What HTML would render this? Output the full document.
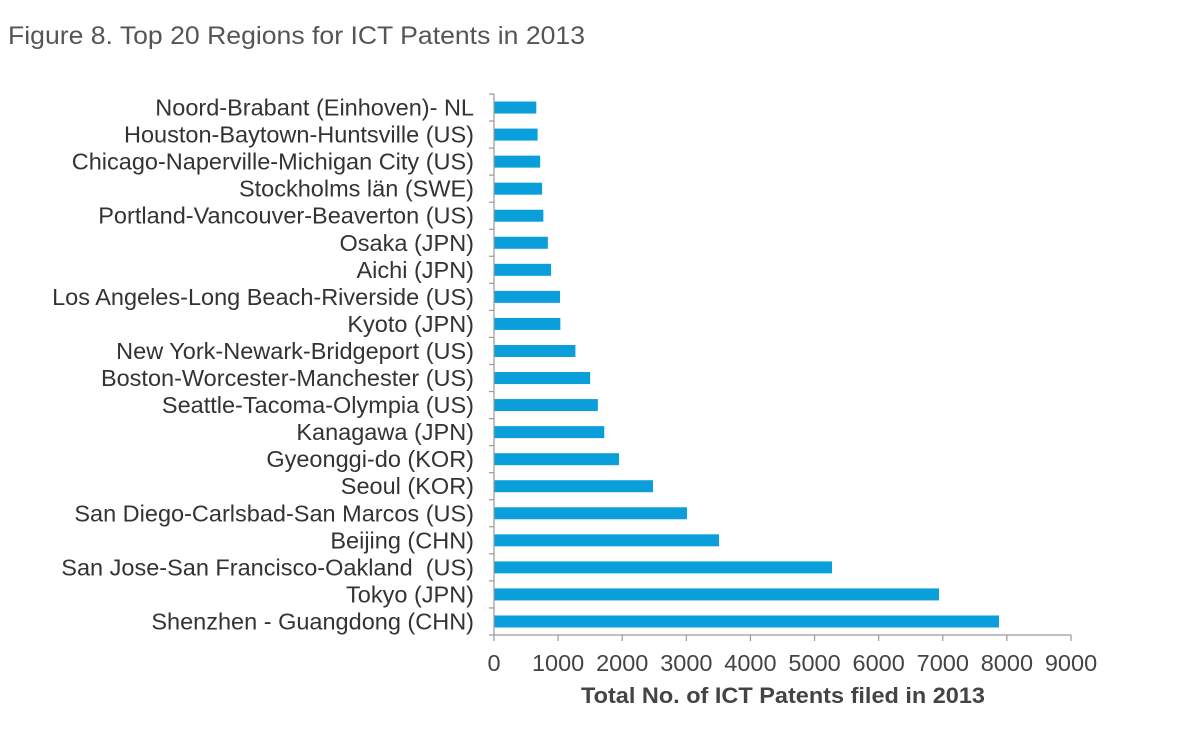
<!DOCTYPE html>
<html><head><meta charset="utf-8"><style>
body{margin:0;background:#fff;}
svg{display:block;font-family:"Liberation Sans",sans-serif;}
#yaxis text{white-space:pre;}
</style></head><body>
<svg id="chart" width="1200" height="730">
<text x="8" y="44" font-size="25" fill="#555" textLength="577" lengthAdjust="spacingAndGlyphs">Figure 8. Top 20 Regions for ICT Patents in 2013</text>
<g id="bars"></g>
<g id="yaxis"></g>
<g id="xaxis"></g>
<text x="783" y="703" font-size="22" font-weight="bold" fill="#444" text-anchor="middle" textLength="404" lengthAdjust="spacingAndGlyphs">Total No. of ICT Patents filed in 2013</text>
</svg>
<script>
const categories = ["Noord-Brabant (Einhoven)- NL","Houston-Baytown-Huntsville (US)","Chicago-Naperville-Michigan City (US)","Stockholms län (SWE)","Portland-Vancouver-Beaverton (US)","Osaka (JPN)","Aichi (JPN)","Los Angeles-Long Beach-Riverside (US)","Kyoto (JPN)","New York-Newark-Bridgeport (US)","Boston-Worcester-Manchester (US)","Seattle-Tacoma-Olympia (US)","Kanagawa (JPN)","Gyeonggi-do (KOR)","Seoul (KOR)","San Diego-Carlsbad-San Marcos (US)","Beijing (CHN)","San Jose-San Francisco-Oakland  (US)","Tokyo (JPN)","Shenzhen - Guangdong (CHN)"];
const values = [660,680,720,750,770,840,890,1030,1035,1270,1500,1620,1720,1950,2480,3010,3510,5272,6941,7877];
const xTicks = [0,1000,2000,3000,4000,5000,6000,7000,8000,9000];
const NS="http://www.w3.org/2000/svg";
const x0=494,x1=1071,xMax=9000,yTop=94,yBot=635;
const band=(yBot-yTop)/categories.length;
const xs=v=>x0+(v/xMax)*(x1-x0);
const yc=i=>yTop+band*(i+0.5);
function mk(t,a,p){const e=document.createElementNS(NS,t);for(const k in a)e.setAttribute(k,a[k]);p.appendChild(e);return e;}
const bars=document.getElementById('bars'),ya=document.getElementById('yaxis'),xa=document.getElementById('xaxis');
categories.forEach((c,i)=>{
  const r=mk('rect',{x:x0,y:yc(i)-6,width:xs(values[i])-x0,height:12,fill:'#0a9fdb'},bars);
  
  
  const t=mk('text',{x:474,y:yc(i)+8,'font-size':23.5,fill:'#333','text-anchor':'end'},ya);
  t.textContent=c;
  
  
});
mk('line',{x1:x0,y1:yTop,x2:x0,y2:yBot,stroke:'#999','stroke-width':1.2},ya);
for(let i=0;i<=categories.length;i++){const y=yTop+band*i;mk('line',{x1:x0-5,y1:y,x2:x0,y2:y,stroke:'#999','stroke-width':1.2},ya);}
mk('line',{x1:x0,y1:yBot,x2:x1,y2:yBot,stroke:'#999','stroke-width':1.2},xa);
xTicks.forEach(v=>{
  mk('line',{x1:xs(v),y1:yBot,x2:xs(v),y2:yBot+6,stroke:'#999','stroke-width':1.2},xa);
  const t=mk('text',{x:xs(v),y:yBot+36,'font-size':23.5,fill:'#444','text-anchor':'middle'},xa);
  t.textContent=v;
  
  
});
</script>
</body></html>
